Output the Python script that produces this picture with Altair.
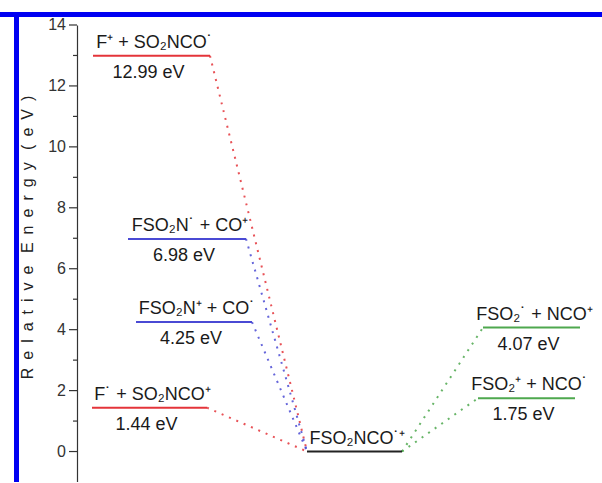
import altair as alt
import pandas as pd

# ---- data ----
species = ["F⁺ + SO₂NCO˙", "FSO₂N˙ + CO⁺", "FSO₂N⁺ + CO˙", "F˙ + SO₂NCO⁺",
           "FSO₂NCO˙⁺", "FSO₂˙ + NCO⁺", "FSO₂⁺ + NCO˙"]
energies = [12.99, 6.98, 4.25, 1.44, 0.0, 4.07, 1.75]
energy_labels = ["12.99 eV", "6.98 eV", "4.25 eV", "1.44 eV", "", "4.07 eV", "1.75 eV"]
level_start = [16, 51, 59, 15, 230, 406, 401]
level_end = [133, 169, 175, 130, 325, 503, 498]
side = ["left", "left", "left", "left", "ground", "right", "right"]
level_colors = ["#e4343a", "#4a4ad4", "#4a4ad4", "#e4343a", "#222222", "#4ea84e", "#4ea84e"]
major_ticks = [0, 2, 4, 6, 8, 10, 12, 14]
minor_ticks = [1, 3, 5, 7, 9, 11, 13]

W, H = 525, 457
sp = "\u2002"
y_title = (" " + sp).join(sp.join(list(w)) for w in ["Relative", "Energy", "(eV)"])

df = pd.DataFrame({
    "species": species, "energy": energies, "elabel": energy_labels,
    "x1": level_start, "x2": level_end, "side": side, "color": level_colors,
})
df["xm"] = (df["x1"] + df["x2"]) / 2

g = df[df["side"] == "ground"].iloc[0]
conn = []
for _, r in df.iterrows():
    if r["side"] == "left":
        conn.append({"xa": r["x2"], "ya": r["energy"], "xb": g["x1"], "yb": g["energy"], "color": r["color"]})
    elif r["side"] == "right":
        conn.append({"xa": g["x2"], "ya": g["energy"], "xb": r["x1"], "yb": r["energy"], "color": r["color"]})
conn = pd.DataFrame(conn)

yscale = alt.Scale(domain=[-1, 14], nice=False, zero=False)
xscale = alt.Scale(domain=[0, W], nice=False, zero=False)
yaxis = alt.Axis(values=major_ticks, title=y_title, labels=False, ticks=False)
xaxis = alt.Axis(title=None, labels=False, ticks=False, grid=False,
                 domainColor="#c4c4c4", domainWidth=1)

levels = alt.Chart(df).mark_rule(strokeWidth=2).encode(
    x=alt.X("x1:Q", scale=xscale, axis=xaxis),
    x2="x2:Q",
    y=alt.Y("energy:Q", scale=yscale, axis=yaxis),
    color=alt.Color("color:N", scale=None),
)

connectors = alt.Chart(conn).mark_rule(strokeWidth=2, strokeDash=[2, 6], opacity=0.85).encode(
    x=alt.X("xa:Q", scale=xscale, axis=xaxis),
    x2="xb:Q",
    y=alt.Y("ya:Q", scale=yscale, axis=yaxis),
    y2="yb:Q",
    color=alt.Color("color:N", scale=None),
)

names = alt.Chart(df).mark_text(font="Liberation Sans", fontSize=18, color="#1a1a1a",
                                baseline="alphabetic", dy=-8, dx=3).encode(
    x=alt.X("xm:Q", scale=xscale, axis=xaxis),
    y=alt.Y("energy:Q", scale=yscale, axis=yaxis),
    text="species:N",
)

values = alt.Chart(df).mark_text(font="Liberation Sans", fontSize=18, color="#1a1a1a",
                                 baseline="alphabetic", dy=22, dx=-3).encode(
    x=alt.X("xm:Q", scale=xscale, axis=xaxis),
    y=alt.Y("energy:Q", scale=yscale, axis=yaxis),
    text="elabel:N",
)

tickdf = pd.DataFrame({"t": major_ticks})
major = alt.Chart(tickdf).mark_rule(color="#333333", strokeWidth=1.2).encode(
    x=alt.value(-8), x2=alt.value(0),
    y=alt.Y("t:Q", scale=yscale, axis=yaxis),
)
ticklabels = alt.Chart(tickdf).mark_text(font="Liberation Sans", fontSize=16, color="#333333",
                                         align="right", baseline="middle").encode(
    x=alt.value(-11),
    y=alt.Y("t:Q", scale=yscale, axis=yaxis),
    text=alt.Text("t:Q", format="d"),
)
minor = alt.Chart(pd.DataFrame({"m": minor_ticks})).mark_rule(color="#333333", strokeWidth=1.2).encode(
    x=alt.value(-4), x2=alt.value(0),
    y=alt.Y("m:Q", scale=yscale, axis=yaxis),
)

frame_top = alt.Chart(pd.DataFrame({"a": [0]})).mark_rule(color="#0000f2", strokeWidth=5).encode(
    x=alt.value(-77), x2=alt.value(W), y=alt.value(-10.5),
)
frame_left = alt.Chart(pd.DataFrame({"a": [0]})).mark_rule(color="#0000f2", strokeWidth=5).encode(
    x=alt.value(-60.5), y=alt.value(-13), y2=alt.value(H + 2),
)

chart = alt.layer(connectors, levels, major, minor, ticklabels, names, values,
                  frame_top, frame_left).properties(
    width=W, height=H,
    autosize=alt.AutoSizeParams(type="none"),
    padding={"left": 77, "top": 25, "right": 0, "bottom": 0},
    background="white",
).configure_view(strokeWidth=0).configure_axisY(
    grid=False, domainColor="#333333", domainWidth=1.2,
    titleFont="Liberation Sans", titleFontSize=16, titleFontWeight="normal",
    titleColor="#222222", titleX=-45, titleY=212, titleBaseline="alphabetic",
)

chart.save("out.html", embed_options={"renderer": "svg", "actions": False})
